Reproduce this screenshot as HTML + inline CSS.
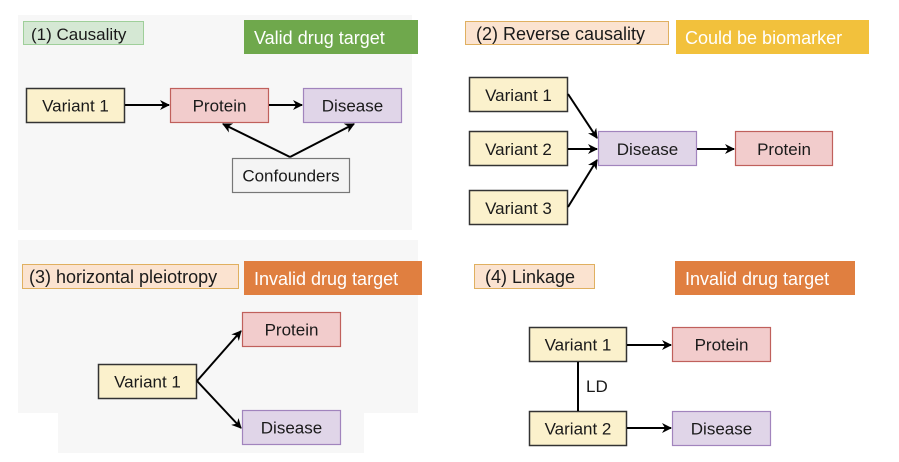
<!DOCTYPE html>
<html><head><meta charset="utf-8"><style>
html,body{margin:0;padding:0;background:#fff;}
svg{display:block;}
text{font-family:"Liberation Sans",Arial,sans-serif;font-size:17px;fill:#1a1a1a;}
</style></head><body>
<svg width="899" height="462" viewBox="0 0 899 462" xmlns="http://www.w3.org/2000/svg">
<defs>
<marker id="a" markerWidth="10" markerHeight="10" refX="9" refY="5" orient="auto" markerUnits="userSpaceOnUse">
<path d="M0,0 L10,5 L0,10 L3,5 Z" fill="#000"/></marker>
</defs>
<!-- backgrounds -->
<rect x="18" y="15" width="394" height="215" fill="#f7f7f7"/>
<rect x="18" y="240" width="400" height="173" fill="#f7f7f7"/>
<rect x="58" y="413" width="306" height="40" fill="#f7f7f7"/>

<!-- Panel 1 -->
<rect x="23.5" y="21.5" width="120" height="23" fill="#d5e8d4" stroke="#9fcf9a"/>
<text x="31" y="40">(1) Causality</text>
<rect x="244" y="20" width="174" height="34" fill="#6fa84c"/>
<text x="254" y="44" style="fill:#fff;font-size:18px">Valid drug target</text>
<rect x="26.5" y="88.5" width="98" height="34" fill="#fbf1cc" stroke="#333" stroke-width="1.5"/>
<text x="75.5" y="111.5" text-anchor="middle">Variant 1</text>
<rect x="170.5" y="88.5" width="98" height="34" fill="#f2cccc" stroke="#c0605c" stroke-width="1.2"/>
<text x="219.5" y="111.5" text-anchor="middle">Protein</text>
<rect x="303.5" y="88.5" width="98" height="34" fill="#e0d5e8" stroke="#a184bd" stroke-width="1.2"/>
<text x="352.5" y="111.5" text-anchor="middle">Disease</text>
<rect x="232.5" y="158.5" width="117" height="34" fill="#f4f4f4" stroke="#777" stroke-width="1.2"/>
<text x="291" y="181.5" text-anchor="middle">Confounders</text>
<g stroke="#000" stroke-width="2" fill="none">
<line x1="125" y1="105" x2="169" y2="105" marker-end="url(#a)"/>
<line x1="269" y1="105" x2="302" y2="105" marker-end="url(#a)"/>
<line x1="290" y1="157" x2="223" y2="124" marker-end="url(#a)"/>
<line x1="290" y1="157" x2="354" y2="124" marker-end="url(#a)"/>
</g>

<!-- Panel 2 -->
<rect x="465.5" y="21.5" width="203" height="23" fill="#fbe3d0" stroke="#e0b060"/>
<text x="476" y="40" style="font-size:18px">(2) Reverse causality</text>
<rect x="676" y="20" width="193" height="34" fill="#f2c13c"/>
<text x="685" y="44" style="fill:#fff;font-size:18px">Could be biomarker</text>
<rect x="469.5" y="77.5" width="98" height="34" fill="#fbf1cc" stroke="#333" stroke-width="1.5"/>
<text x="518.5" y="101" text-anchor="middle">Variant 1</text>
<rect x="469.5" y="131.5" width="98" height="34" fill="#fbf1cc" stroke="#333" stroke-width="1.5"/>
<text x="518.5" y="155" text-anchor="middle">Variant 2</text>
<rect x="469.5" y="190.5" width="98" height="34" fill="#fbf1cc" stroke="#333" stroke-width="1.5"/>
<text x="518.5" y="214" text-anchor="middle">Variant 3</text>
<rect x="598.5" y="131.5" width="98" height="34" fill="#e0d5e8" stroke="#a184bd" stroke-width="1.2"/>
<text x="647.5" y="155" text-anchor="middle">Disease</text>
<rect x="735.5" y="131.5" width="97" height="34" fill="#f2cccc" stroke="#c0605c" stroke-width="1.2"/>
<text x="784" y="155" text-anchor="middle">Protein</text>
<g stroke="#000" stroke-width="2" fill="none">
<line x1="568" y1="94" x2="597" y2="138" marker-end="url(#a)"/>
<line x1="568" y1="149" x2="597" y2="149" marker-end="url(#a)"/>
<line x1="568" y1="207" x2="597" y2="160" marker-end="url(#a)"/>
<line x1="697" y1="149" x2="734" y2="149" marker-end="url(#a)"/>
</g>

<!-- Panel 3 -->
<rect x="22.5" y="264.5" width="216" height="24" fill="#fbe3d0" stroke="#e0b060"/>
<text x="29" y="283" style="font-size:18px">(3) horizontal pleiotropy</text>
<rect x="244" y="261" width="178" height="34" fill="#e07f40"/>
<text x="254" y="285" style="fill:#fff;font-size:18px">Invalid drug target</text>
<rect x="242.5" y="312.5" width="98" height="34" fill="#f2cccc" stroke="#c0605c" stroke-width="1.2"/>
<text x="291.5" y="335.5" text-anchor="middle">Protein</text>
<rect x="98.5" y="364.5" width="98" height="34" fill="#fbf1cc" stroke="#333" stroke-width="1.5"/>
<text x="147.5" y="387.5" text-anchor="middle">Variant 1</text>
<rect x="242.5" y="410.5" width="98" height="34" fill="#e0d5e8" stroke="#a184bd" stroke-width="1.2"/>
<text x="291.5" y="433.5" text-anchor="middle">Disease</text>
<g stroke="#000" stroke-width="2" fill="none">
<line x1="197" y1="381" x2="241" y2="331" marker-end="url(#a)"/>
<line x1="197" y1="381" x2="241" y2="428" marker-end="url(#a)"/>
</g>

<!-- Panel 4 -->
<rect x="474.5" y="264.5" width="120" height="24" fill="#fbe3d0" stroke="#e0b060"/>
<text x="485" y="283" style="font-size:18px">(4) Linkage</text>
<rect x="675" y="261" width="180" height="34" fill="#e07f40"/>
<text x="685" y="285" style="fill:#fff;font-size:18px">Invalid drug target</text>
<rect x="529.5" y="327.5" width="97" height="34" fill="#fbf1cc" stroke="#333" stroke-width="1.5"/>
<text x="578" y="350.5" text-anchor="middle">Variant 1</text>
<rect x="672.5" y="327.5" width="98" height="34" fill="#f2cccc" stroke="#c0605c" stroke-width="1.2"/>
<text x="721.5" y="350.5" text-anchor="middle">Protein</text>
<rect x="529.5" y="411.5" width="97" height="34" fill="#fbf1cc" stroke="#333" stroke-width="1.5"/>
<text x="578" y="434.5" text-anchor="middle">Variant 2</text>
<rect x="672.5" y="411.5" width="98" height="34" fill="#e0d5e8" stroke="#a184bd" stroke-width="1.2"/>
<text x="721.5" y="434.5" text-anchor="middle">Disease</text>
<g stroke="#000" stroke-width="2" fill="none">
<line x1="578" y1="362" x2="578" y2="411"/>
<line x1="627" y1="345" x2="671" y2="345" marker-end="url(#a)"/>
<line x1="627" y1="428" x2="671" y2="428" marker-end="url(#a)"/>
</g>
<text x="586" y="392">LD</text>
</svg>
</body></html>
